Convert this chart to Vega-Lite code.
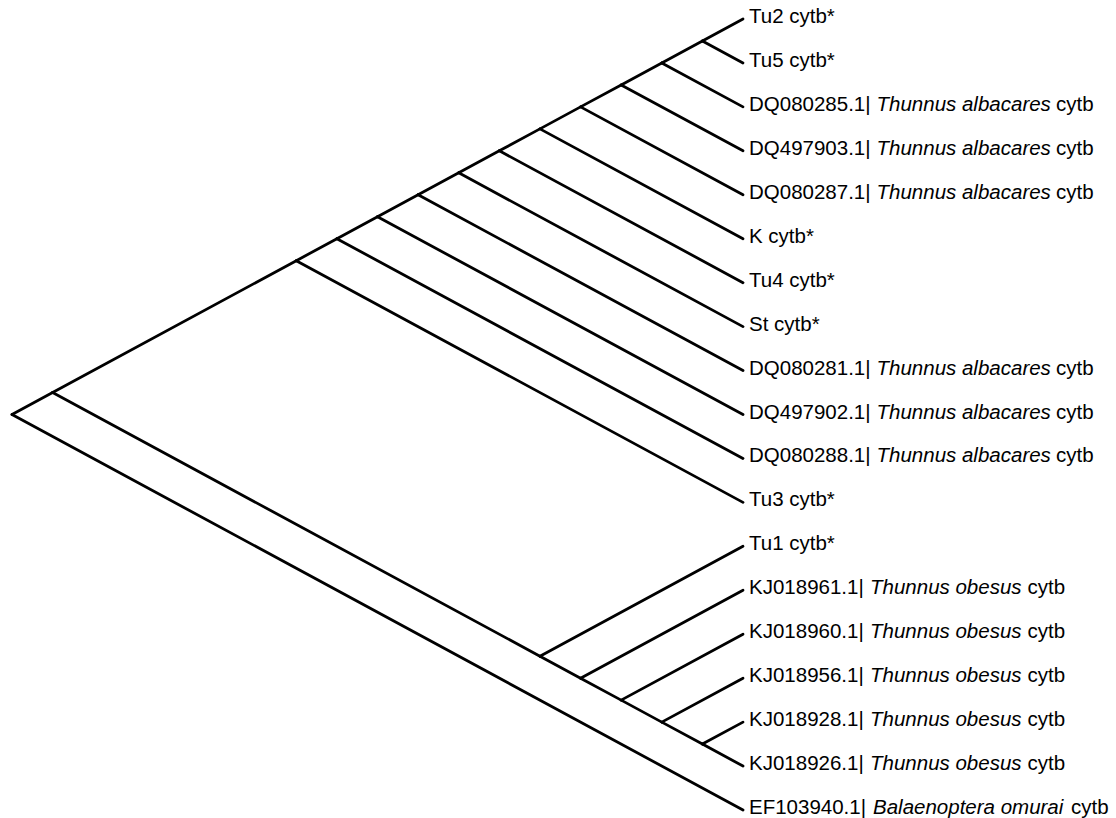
{
  "$schema": "https://vega.github.io/schema/vega-lite/v6.json",
  "autosize": {"type": "none"},
  "padding": {"left": 12, "top": 19, "right": 373, "bottom": 8},
  "width": 731,
  "height": 791,
  "background": "white",
  "config": {"view": {"stroke": null}, "text": {"font": "Liberation Sans", "fontSize": 20.5, "color": "black", "baseline": "middle", "align": "left", "dy": -2}},
  "datasets": {
    "edges": [
      {"x": 0, "y": 9, "x2": 1, "y2": 8.5},
      {"x": 0, "y": 9, "x2": 18, "y2": 18},
      {"x": 1, "y": 8.5, "x2": 7, "y2": 5.5},
      {"x": 1, "y": 8.5, "x2": 13, "y2": 14.5},
      {"x": 7, "y": 5.5, "x2": 8, "y2": 5},
      {"x": 7, "y": 5.5, "x2": 18, "y2": 11},
      {"x": 8, "y": 5, "x2": 9, "y2": 4.5},
      {"x": 8, "y": 5, "x2": 18, "y2": 10},
      {"x": 9, "y": 4.5, "x2": 10, "y2": 4},
      {"x": 9, "y": 4.5, "x2": 18, "y2": 9},
      {"x": 10, "y": 4, "x2": 11, "y2": 3.5},
      {"x": 10, "y": 4, "x2": 18, "y2": 8},
      {"x": 11, "y": 3.5, "x2": 12, "y2": 3},
      {"x": 11, "y": 3.5, "x2": 18, "y2": 7},
      {"x": 12, "y": 3, "x2": 13, "y2": 2.5},
      {"x": 12, "y": 3, "x2": 18, "y2": 6},
      {"x": 13, "y": 2.5, "x2": 14, "y2": 2},
      {"x": 13, "y": 2.5, "x2": 18, "y2": 5},
      {"x": 14, "y": 2, "x2": 15, "y2": 1.5},
      {"x": 14, "y": 2, "x2": 18, "y2": 4},
      {"x": 15, "y": 1.5, "x2": 16, "y2": 1},
      {"x": 15, "y": 1.5, "x2": 18, "y2": 3},
      {"x": 16, "y": 1, "x2": 17, "y2": 0.5},
      {"x": 16, "y": 1, "x2": 18, "y2": 2},
      {"x": 17, "y": 0.5, "x2": 18, "y2": 0},
      {"x": 17, "y": 0.5, "x2": 18, "y2": 1},
      {"x": 13, "y": 14.5, "x2": 18, "y2": 12},
      {"x": 13, "y": 14.5, "x2": 14, "y2": 15},
      {"x": 14, "y": 15, "x2": 18, "y2": 13},
      {"x": 14, "y": 15, "x2": 15, "y2": 15.5},
      {"x": 15, "y": 15.5, "x2": 18, "y2": 14},
      {"x": 15, "y": 15.5, "x2": 16, "y2": 16},
      {"x": 16, "y": 16, "x2": 18, "y2": 15},
      {"x": 16, "y": 16, "x2": 17, "y2": 16.5},
      {"x": 17, "y": 16.5, "x2": 18, "y2": 16},
      {"x": 17, "y": 16.5, "x2": 18, "y2": 17}
    ],
    "leaves": [
      {"idx": 0, "depth": 18, "pre": "Tu2 cytb*", "sp": "", "suf": "", "grp": "plain"},
      {"idx": 1, "depth": 18, "pre": "Tu5 cytb*", "sp": "", "suf": "", "grp": "plain"},
      {"idx": 2, "depth": 18, "pre": "DQ080285.1|", "sp": "Thunnus albacares", "suf": "cytb", "grp": "DQ"},
      {"idx": 3, "depth": 18, "pre": "DQ497903.1|", "sp": "Thunnus albacares", "suf": "cytb", "grp": "DQ"},
      {"idx": 4, "depth": 18, "pre": "DQ080287.1|", "sp": "Thunnus albacares", "suf": "cytb", "grp": "DQ"},
      {"idx": 5, "depth": 18, "pre": "K cytb*", "sp": "", "suf": "", "grp": "plain"},
      {"idx": 6, "depth": 18, "pre": "Tu4 cytb*", "sp": "", "suf": "", "grp": "plain"},
      {"idx": 7, "depth": 18, "pre": "St cytb*", "sp": "", "suf": "", "grp": "plain"},
      {"idx": 8, "depth": 18, "pre": "DQ080281.1|", "sp": "Thunnus albacares", "suf": "cytb", "grp": "DQ"},
      {"idx": 9, "depth": 18, "pre": "DQ497902.1|", "sp": "Thunnus albacares", "suf": "cytb", "grp": "DQ"},
      {"idx": 10, "depth": 18, "pre": "DQ080288.1|", "sp": "Thunnus albacares", "suf": "cytb", "grp": "DQ"},
      {"idx": 11, "depth": 18, "pre": "Tu3 cytb*", "sp": "", "suf": "", "grp": "plain"},
      {"idx": 12, "depth": 18, "pre": "Tu1 cytb*", "sp": "", "suf": "", "grp": "plain"},
      {"idx": 13, "depth": 18, "pre": "KJ018961.1|", "sp": "Thunnus obesus", "suf": "cytb", "grp": "KJ"},
      {"idx": 14, "depth": 18, "pre": "KJ018960.1|", "sp": "Thunnus obesus", "suf": "cytb", "grp": "KJ"},
      {"idx": 15, "depth": 18, "pre": "KJ018956.1|", "sp": "Thunnus obesus", "suf": "cytb", "grp": "KJ"},
      {"idx": 16, "depth": 18, "pre": "KJ018928.1|", "sp": "Thunnus obesus", "suf": "cytb", "grp": "KJ"},
      {"idx": 17, "depth": 18, "pre": "KJ018926.1|", "sp": "Thunnus obesus", "suf": "cytb", "grp": "KJ"},
      {"idx": 18, "depth": 18, "pre": "EF103940.1|", "sp": "Balaenoptera omurai", "suf": "cytb", "grp": "EF"}
    ]
  },
  "layer": [
    {
      "data": {"name": "edges"},
      "mark": {"type": "rule", "strokeWidth": 2.8, "color": "black", "strokeCap": "round"},
      "encoding": {
        "x": {"field": "x", "type": "quantitative", "scale": {"domain": [0, 18], "nice": false, "zero": false}, "axis": null},
        "y": {"field": "y", "type": "quantitative", "scale": {"domain": [0, 18], "nice": false, "zero": false, "reverse": true}, "axis": null},
        "x2": {"field": "x2"},
        "y2": {"field": "y2"}
      }
    },
    {
      "data": {"name": "leaves"},
      "mark": {"type": "text", "dx": 6},
      "encoding": {
        "x": {"field": "depth", "type": "quantitative"},
        "y": {"field": "idx", "type": "quantitative"},
        "text": {"field": "pre"}
      }
    },
    {
      "data": {"name": "leaves"},
      "transform": [{"filter": "datum.grp === 'DQ'"}],
      "mark": {"type": "text", "dx": 133.5, "fontStyle": "italic"},
      "encoding": {
        "x": {"field": "depth", "type": "quantitative"},
        "y": {"field": "idx", "type": "quantitative"},
        "text": {"field": "sp"}
      }
    },
    {
      "data": {"name": "leaves"},
      "transform": [{"filter": "datum.grp === 'DQ'"}],
      "mark": {"type": "text", "dx": 313},
      "encoding": {
        "x": {"field": "depth", "type": "quantitative"},
        "y": {"field": "idx", "type": "quantitative"},
        "text": {"field": "suf"}
      }
    },
    {
      "data": {"name": "leaves"},
      "transform": [{"filter": "datum.grp === 'KJ'"}],
      "mark": {"type": "text", "dx": 127, "fontStyle": "italic"},
      "encoding": {
        "x": {"field": "depth", "type": "quantitative"},
        "y": {"field": "idx", "type": "quantitative"},
        "text": {"field": "sp"}
      }
    },
    {
      "data": {"name": "leaves"},
      "transform": [{"filter": "datum.grp === 'KJ'"}],
      "mark": {"type": "text", "dx": 284.5},
      "encoding": {
        "x": {"field": "depth", "type": "quantitative"},
        "y": {"field": "idx", "type": "quantitative"},
        "text": {"field": "suf"}
      }
    },
    {
      "data": {"name": "leaves"},
      "transform": [{"filter": "datum.grp === 'EF'"}],
      "mark": {"type": "text", "dx": 130, "fontStyle": "italic"},
      "encoding": {
        "x": {"field": "depth", "type": "quantitative"},
        "y": {"field": "idx", "type": "quantitative"},
        "text": {"field": "sp"}
      }
    },
    {
      "data": {"name": "leaves"},
      "transform": [{"filter": "datum.grp === 'EF'"}],
      "mark": {"type": "text", "dx": 328},
      "encoding": {
        "x": {"field": "depth", "type": "quantitative"},
        "y": {"field": "idx", "type": "quantitative"},
        "text": {"field": "suf"}
      }
    }
  ]
}
